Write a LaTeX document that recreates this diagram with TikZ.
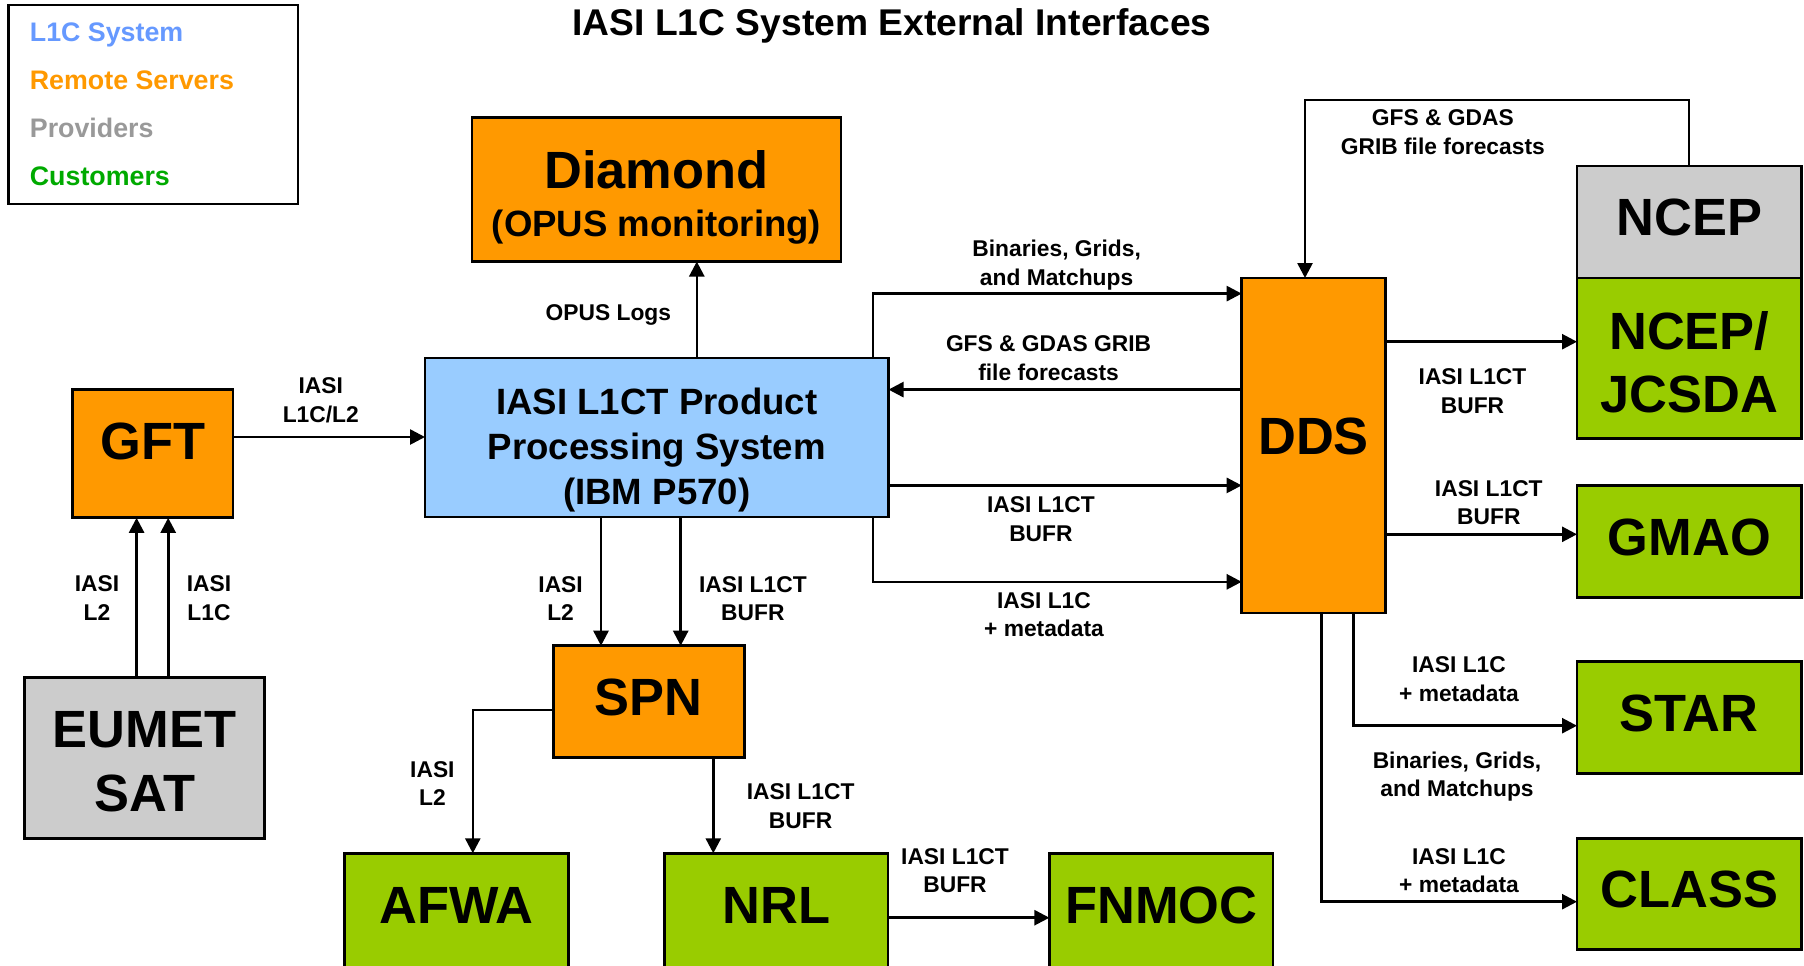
\documentclass[tikz,border=0pt]{standalone}
\usepackage{fontspec}
\setmainfont{Liberation Sans}
\usetikzlibrary{arrows.meta}
\definecolor{cOrange}{HTML}{FF9900}
\definecolor{cBlue}{HTML}{99CCFF}
\definecolor{cGray}{HTML}{CCCCCC}
\definecolor{cGreen}{HTML}{99CC00}
\definecolor{tBlue}{HTML}{6699FF}
\definecolor{tGray}{HTML}{999999}
\definecolor{tGreen}{HTML}{00AA00}
\newcommand\btext[2]{\raisebox{#1}[0pt][0pt]{\begin{tabular}[t]{@{}c@{}}#2\end{tabular}}}
\newcommand\tl[1]{\begin{tabular}[t]{@{}c@{}}#1\end{tabular}}
\newcommand\bigf{\fontsize{26.2}{32}\selectfont\bfseries}
\newcommand\medf{\fontsize{18.3}{22.5}\selectfont\bfseries}
\newcommand\lblf{\fontsize{11.4}{14.15}\selectfont\bfseries}
\tikzset{
  box/.style={draw, line width=1.4pt, inner sep=0pt, outer sep=0pt, font=\bigf},
  orangebox/.style={box, fill=cOrange},
  bluebox/.style={box, fill=cBlue},
  graybox/.style={box, fill=cGray},
  greenbox/.style={box, fill=cGreen},
  lbl/.style={font=\lblf, inner sep=0pt, anchor=base},
  legtext/.style={font=\fontsize{13.4}{15}\selectfont\bfseries, inner sep=0pt, anchor=base west},
  arr/.style={-{Triangle[length=7.5pt,width=7.5pt]}, line width=1.3pt},
}
\begin{document}
\begin{tikzpicture}[x=0.5pt, y=-0.5pt]
\useasboundingbox (0,0) rectangle (1804,965);
\fill[white] (0,0) rectangle (1804,965);

% legend
\node[draw, line width=1.2pt, minimum width=144.8pt, minimum height=99.5pt, inner sep=0pt] (legend) at (153.2,104.5) {};
\node[legtext, text=tBlue] (legA) at (29.5,41.8) {L1C System};
\node[legtext, text=cOrange] (legB) at (29.5,89.1) {Remote Servers};
\node[legtext, text=tGray] (legC) at (29.5,137.4) {Providers};
\node[legtext, text=tGreen] (legD) at (29.5,185.8) {Customers};

% title
\node[font=\fontsize{18.6}{20}\selectfont\bfseries, inner sep=0pt, anchor=base] (title) at (892,35) {IASI L1C System External Interfaces};

% boxes
\node[orangebox, minimum width=184.5pt, minimum height=72pt, font=\fontsize{26.2}{24.3}\selectfont\bfseries] (diamond) at (656.5,189.5)
  {\btext{0.7pt}{Diamond\\{\medf(OPUS monitoring)}}};
\node[bluebox, minimum width=231.75pt, minimum height=79.5pt, font=\medf] (iasi) at (656.75,437.5)
  {\btext{11.65pt}{IASI L1CT Product\\Processing System\\(IBM P570)}};
\node[orangebox, minimum width=80.35pt, minimum height=64.3pt] (gft) at (152.65,453.5) {\btext{-3.2pt}{GFT}};
\node[graybox, minimum width=119.95pt, minimum height=80.35pt, font=\fontsize{26.2}{32.2}\selectfont\bfseries] (eumet) at (144.65,757.85)
  {\btext{5.3pt}{EUMET\\SAT}};
\node[orangebox, minimum width=95.65pt, minimum height=56pt] (spn) at (648.85,701.7) {\btext{-7.1pt}{SPN}};
\node[greenbox, minimum width=111.95pt, minimum height=58.85pt] (afwa) at (456.55,912.15) {\btext{-5.7pt}{AFWA}};
\node[greenbox, minimum width=111.6pt, minimum height=58.85pt] (nrl) at (776.4,912.15) {\btext{-5.7pt}{NRL}};
\node[greenbox, minimum width=111.8pt, minimum height=58.85pt] (fnmoc) at (1161.2,912.15) {\btext{-5.7pt}{FNMOC}};
\node[orangebox, minimum width=71.9pt, minimum height=167.5pt] (dds) at (1313.6,445.5) {\btext{-4.35pt}{DDS}};
\node[graybox, minimum width=112.25pt, minimum height=56pt] (ncep) at (1689.25,222) {\btext{-6.95pt}{NCEP}};
\node[greenbox, minimum width=112.25pt, minimum height=80.15pt, font=\fontsize{26.2}{31.5}\selectfont\bfseries] (ncepj) at (1689.25,358.15)
  {\btext{4.3pt}{NCEP/\\JCSDA}};
\node[greenbox, minimum width=112.25pt, minimum height=56pt] (gmao) at (1689.25,541.7) {\btext{-7.1pt}{GMAO}};
\node[greenbox, minimum width=112.25pt, minimum height=55.8pt] (star) at (1689.25,717.5) {\btext{-7.2pt}{STAR}};
\node[greenbox, minimum width=112.25pt, minimum height=55.5pt] (class) at (1689.25,893.8) {\btext{-7.05pt}{CLASS}};

% helper coordinates
\coordinate (xOpus) at (696.8,0);
\coordinate (yGft) at (0,437);
\coordinate (xE1) at (136.6,0);
\coordinate (xE2) at (168.2,0);
\coordinate (xS1) at (601,0);
\coordinate (xS2) at (680.7,0);
\coordinate (yAf) at (0,710);
\coordinate (xAf) at (472.8,0);
\coordinate (xNrl) at (713.3,0);
\coordinate (yFn) at (0,917.7);
\coordinate (xB) at (873,0);
\coordinate (yB) at (0,293.6);
\coordinate (yG) at (0,389.6);
\coordinate (yT) at (0,485.4);
\coordinate (yM) at (0,581.8);
\coordinate (xN1) at (1689,0);
\coordinate (xN2) at (1305,0);
\coordinate (yN) at (0,100);
\coordinate (yJ) at (0,341.7);
\coordinate (yGm) at (0,534.3);
\coordinate (xSt) at (1353.3,0);
\coordinate (ySt) at (0,725.7);
\coordinate (xCl) at (1321.7,0);
\coordinate (yCl) at (0,901.7);

% connectors
\draw[arr] (iasi.north -| xOpus) -- (diamond.south -| xOpus);
\draw[arr] (gft.east |- yGft) -- (iasi.west |- yGft);
\draw[arr] (eumet.north -| xE1) -- (gft.south -| xE1);
\draw[arr] (eumet.north -| xE2) -- (gft.south -| xE2);
\draw[arr] (iasi.south -| xS1) -- (spn.north -| xS1);
\draw[arr] (iasi.south -| xS2) -- (spn.north -| xS2);
\draw[arr] (spn.west |- yAf) -| (afwa.north -| xAf);
\draw[arr] (spn.south -| xNrl) -- (nrl.north -| xNrl);
\draw[arr] (nrl.east |- yFn) -- (fnmoc.west |- yFn);
\draw[arr] (iasi.north -| xB) |- (dds.west |- yB);
\draw[arr] (dds.west |- yG) -- (iasi.east |- yG);
\draw[arr] (iasi.east |- yT) -- (dds.west |- yT);
\draw[arr] (iasi.south -| xB) |- (dds.west |- yM);
\draw[arr] (ncep.north -| xN1) -- (xN1 |- yN) -| (dds.north -| xN2);
\draw[arr] (dds.east |- yJ) -- (ncepj.west |- yJ);
\draw[arr] (dds.east |- yGm) -- (gmao.west |- yGm);
\draw[arr] (dds.south -| xSt) |- (star.west |- ySt);
\draw[arr] (dds.south -| xCl) |- (class.west |- yCl);

% labels
\node[lbl] (lOpus) at (608.4,320.8) {OPUS Logs};
\node[lbl] (lBin1) at (1056.6,256.9) {\tl{Binaries, Grids,\\and Matchups}};
\node[lbl] (lGfs1) at (1048.6,351.9) {\tl{GFS \& GDAS GRIB\\file forecasts}};
\node[lbl] (lMid) at (1040.9,512.7) {\tl{IASI L1CT\\BUFR}};
\node[lbl] (lMeta) at (1044,608.1) {\tl{IASI L1C\\+ metadata}};
\node[lbl] (lGft) at (320.8,393.9) {\tl{IASI\\L1C/L2}};
\node[lbl] (lE1) at (97,591.9) {\tl{IASI\\L2}};
\node[lbl] (lE2) at (209,591.9) {\tl{IASI\\L1C}};
\node[lbl] (lS1) at (560.6,592.4) {\tl{IASI\\L2}};
\node[lbl] (lS2) at (752.9,592.4) {\tl{IASI L1CT\\BUFR}};
\node[lbl] (lAf) at (432.4,777.4) {\tl{IASI\\L2}};
\node[lbl] (lNrl) at (800.6,799.9) {\tl{IASI L1CT\\BUFR}};
\node[lbl] (lFn) at (955,864.6) {\tl{IASI L1CT\\BUFR}};
\node[lbl] (lGfs2) at (1442.8,125.9) {\tl{GFS \& GDAS\hspace{11pt}\\GRIB file forecasts}};
\node[lbl] (lJ) at (1472.5,384.9) {\tl{IASI L1CT\\BUFR}};
\node[lbl] (lGm) at (1488.8,496.2) {\tl{IASI L1CT\\BUFR}};
\node[lbl] (lSt) at (1459,672.9) {\tl{IASI L1C\\+ metadata}};
\node[lbl] (lBin2) at (1457,768.4) {\tl{Binaries, Grids,\\and Matchups}};
\node[lbl] (lCl) at (1459,864.4) {\tl{IASI L1C\\+ metadata}};
\end{tikzpicture}
\end{document}
